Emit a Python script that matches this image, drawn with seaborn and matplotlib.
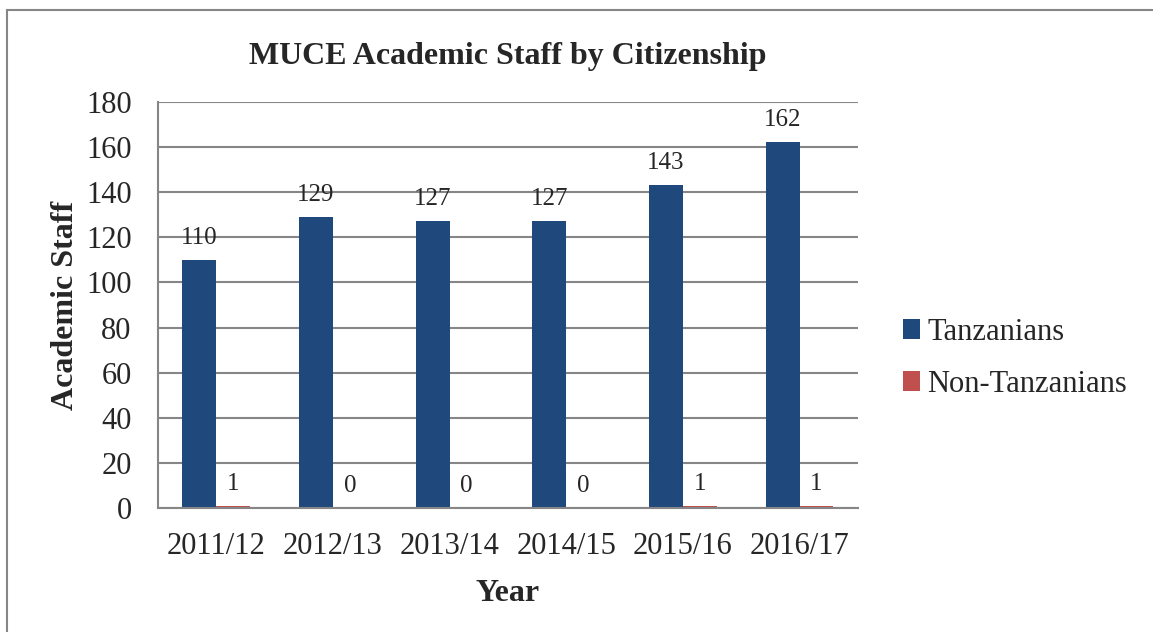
import numpy as np
import pandas as pd
import matplotlib.pyplot as plt
import seaborn as sns
from matplotlib.patches import Rectangle

years = ['2011/12', '2012/13', '2013/14', '2014/15', '2015/16', '2016/17']
tanzanians = [110, 129, 127, 127, 143, 162]
non_tanzanians = [1, 0, 0, 0, 1, 1]
groups = ['Tanzanians', 'Non-Tanzanians']
colors = ['#1F497D', '#C0504D']

staff = pd.DataFrame({
    'Year': years * 2,
    'Staff': tanzanians + non_tanzanians,
    'Citizenship': [groups[0]] * len(years) + [groups[1]] * len(years)
})

sns.set_style('white')
plt.rcParams['font.family'] = ['Liberation Serif', 'DejaVu Serif']

fig = plt.figure(figsize=(11.53, 6.32), dpi=100)
ax = fig.add_axes([0.137, 0.196, 0.607, 0.643])

sns.barplot(
    x = 'Year',
    y = 'Staff',
    hue = 'Citizenship',
    data = staff,
    palette = colors,
    width = 0.58,
    saturation = 1,
    linewidth = 0,
    ax = ax
)

for cont in ax.containers:
    ax.bar_label(cont, fmt='%d', padding=8, fontsize=18)

ax.set_ylim(0, 180)
ax.set_yticks(np.arange(0, 181, 20))
ax.set_xlim(-0.5, 5.5)
ax.yaxis.grid(True, color='#868686', linewidth=1.5)
ax.set_axisbelow(True)
for side in ['top', 'right']:
    ax.spines[side].set_visible(False)
for side in ['left', 'bottom']:
    ax.spines[side].set_color('#868686')
    ax.spines[side].set_linewidth(1.5)
ax.tick_params(axis='y', length=7, width=1.5, color='#868686', labelsize=22, pad=12)
ax.tick_params(axis='x', length=0, labelsize=22, pad=17)

ax.set_xlabel('Year', fontsize=23, fontweight='bold', labelpad=13)
ax.set_ylabel('Academic Staff', fontsize=23, fontweight='bold', labelpad=4)
ax.set_title('MUCE Academic Staff by Citizenship', fontsize=23, fontweight='bold', pad=27)

ax.legend(
    loc = 'center left',
    bbox_to_anchor = (1.025, 0.369),
    frameon = False,
    fontsize = 22,
    handlelength = 0.55,
    handleheight = 0.65,
    handletextpad = 0.25,
    labelspacing = 0.75,
    title = None
)

fig.patches.append(Rectangle((7 / 1153, -0.1), 1.2, 0.1 + 1 - 10 / 632,
                             transform=fig.transFigure, fill=False,
                             edgecolor='#868686', linewidth=1.5))

fig.savefig('out.png', dpi=100)
